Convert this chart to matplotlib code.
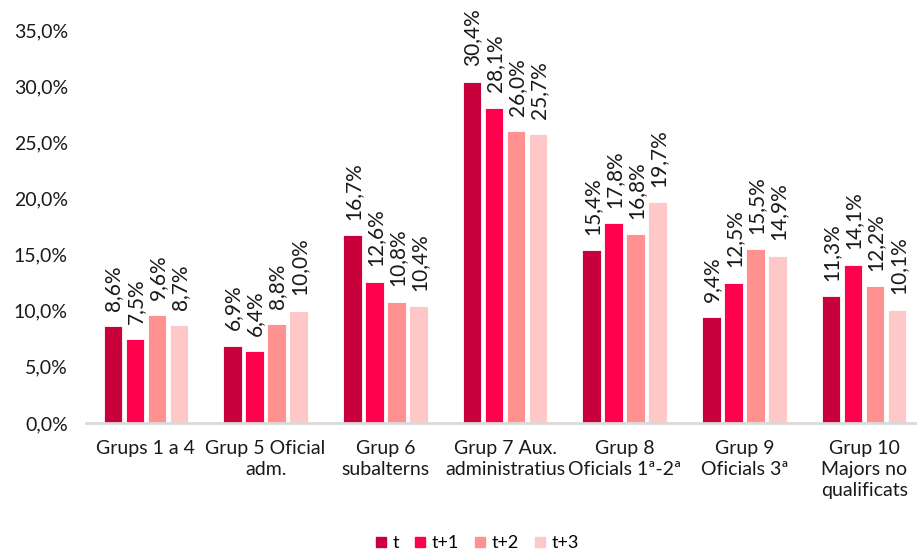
import matplotlib.pyplot as plt
import numpy as np
from matplotlib.lines import Line2D

categories = [
    'Grups 1 a 4',
    'Grup 5 Oficial\nadm.',
    'Grup 6\nsubalterns',
    'Grup 7 Aux.\nadministratius',
    'Grup 8\nOficials 1ª-2ª',
    'Grup 9\nOficials 3ª',
    'Grup 10\nMajors no\nqualificats',
]
series_names = ['t', 't+1', 't+2', 't+3']
vals_t = [8.6, 6.9, 16.7, 30.4, 15.4, 9.4, 11.3]
vals_t1 = [7.5, 6.4, 12.6, 28.1, 17.8, 12.5, 14.1]
vals_t2 = [9.6, 8.8, 10.8, 26.0, 16.8, 15.5, 12.2]
vals_t3 = [8.7, 10.0, 10.4, 25.7, 19.7, 14.9, 10.1]
colors = ['#C8003C', '#FF004D', '#FF9191', '#FFC8C8']


def pct(v):
    return f'{v:.1f}'.replace('.', ',') + '%'


plt.rcParams['font.family'] = ['Lato', 'DejaVu Sans']
txt = '#1a1a1a'

fig = plt.figure(figsize=(9.17, 5.51), dpi=100)
ax = fig.add_axes([0.0938, 0.2323, 0.906, 0.7132])

x = np.arange(len(categories))
width = 0.155
step = 0.184
for i, (vals, col) in enumerate(zip([vals_t, vals_t1, vals_t2, vals_t3], colors)):
    pos = x + (i - 1.5) * step
    ax.bar(pos, vals, width, color=col, edgecolor='white', linewidth=0.6)
    for p, v in zip(pos, vals):
        ax.annotate(pct(v), (p, v), xytext=(0.5, 11), textcoords='offset points',
                    rotation=90, ha='center', va='bottom', fontsize=15, color=txt)

ax.set_ylim(0, 35)
ax.set_xlim(-0.5, 6.44)
ax.set_yticks(np.arange(0, 36, 5))
ax.set_yticklabels([pct(t) for t in np.arange(0, 36, 5)], fontsize=14, color=txt)
ax.set_xticks(x)
ax.set_xticklabels(categories, fontsize=14, color=txt, va='top', linespacing=1.3)
ax.tick_params(axis='both', length=0)
ax.tick_params(axis='x', pad=12)
ax.tick_params(axis='y', pad=13)
for s in ['top', 'right', 'left']:
    ax.spines[s].set_visible(False)
ax.spines['bottom'].set_color('#D9D9D9')
ax.spines['bottom'].set_linewidth(2)

handles = [Line2D([], [], marker='s', linestyle='', markersize=7.5, color=c) for c in colors]
fig.legend(handles, series_names, loc='lower center', bbox_to_anchor=(0.52, -0.03),
           ncol=4, frameon=False, fontsize=13, handlelength=0.7, handletextpad=0.3,
           columnspacing=0.8)

fig.savefig('out.png', dpi=100)
